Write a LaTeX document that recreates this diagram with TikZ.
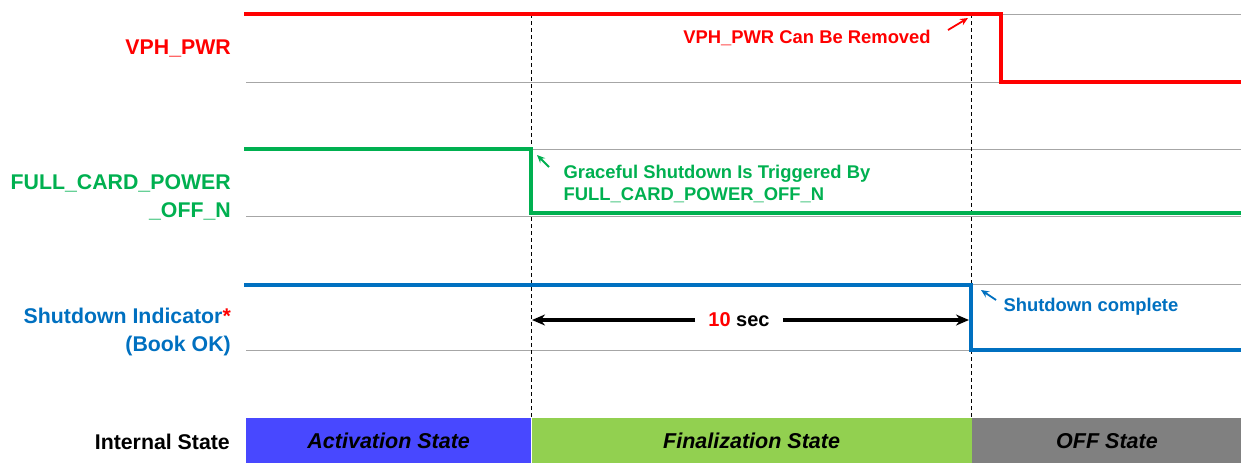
\documentclass[tikz,border=0pt]{standalone}
\usepackage{fontspec}
\setmainfont{Liberation Sans}
\usetikzlibrary{arrows.meta,positioning}
\definecolor{sigred}{RGB}{255,0,0}
\definecolor{siggreen}{RGB}{0,176,80}
\definecolor{sigblue}{RGB}{0,112,192}
\definecolor{actblue}{RGB}{72,72,255}
\definecolor{fingreen}{RGB}{146,208,80}
\definecolor{offgray}{RGB}{128,128,128}
\definecolor{gridgray}{RGB}{166,166,166}
\tikzset{
	gridline/.style={gridgray, line width=1pt},
	signal/.style={line width=4pt, line cap=rect},
	siglabel/.style={anchor=east, align=right, inner sep=1pt, font=\fontsize{21.3}{28}\selectfont\bfseries},
	note/.style={align=left, font=\fontsize{18.4}{22}\selectfont\bfseries},
	pointer/.style={->, line width=1.8pt, >={Stealth[length=8pt,width=7pt]}},
	statebox/.style={minimum height=45pt, inner sep=0pt, font=\fontsize{21.5}{24}\selectfont\bfseries\itshape}
}
\begin{document}
\begin{tikzpicture}[x=1pt, y=-1pt, line join=miter, >=stealth]
	\def\xs{246} \def\xa{531} \def\xb{971} \def\xe{1241}
	\useasboundingbox (0,0) rectangle (\xe,463);
	\foreach \y in {82,149,216,284,350}
		\draw[gridline] (\xs,\y)--(\xe,\y);
	\draw[gridline] (1001,14)--(\xe,14);
	\draw[dash pattern=on 4pt off 3pt, line width=.8pt] (\xa,14)--(\xa,418) (\xb,14)--(\xb,418);

	\node[statebox, fill=actblue, minimum width=285pt, anchor=north west] (act) at (\xs,418) {Activation State};
	\node[statebox, fill=fingreen, minimum width=440pt, right=0pt of act] (fin) {Finalization State};
	\node[statebox, fill=offgray, minimum width=270pt, right=0pt of fin] (off) {OFF State};

	\draw[signal, sigred] (\xs,14) -| (1001,82)--(\xe,82);
	\draw[signal, siggreen] (\xs,149) -| (\xa,213)--(\xe,213);
	\draw[signal, sigblue] (\xs,285) -| (\xb,350)--(\xe,350);

	\node[siglabel, sigred] (vph) at (232,48) {VPH\_PWR};
	\node[siglabel, siggreen] (fcp) at (232,197) {FULL\_CARD\_POWER\\\_OFF\_N};
	\node[siglabel, sigblue] (sdi) at (232,332) {Shutdown Indicator\textcolor{sigred}{*}\\(Book OK)};
	\node[siglabel] (ist) at (231,442) {Internal State};

	\node[note, sigred] (rem) at (807,38) {VPH\_PWR Can Be Removed};
	\coordinate (remtail) at (948,30);
	\coordinate (remtip) at (968,18);
	\draw[pointer, sigred] (remtail)--(remtip);

	\node[note, siggreen, anchor=west] (grace) at (560,184) {Graceful Shutdown Is Triggered By\\FULL\_CARD\_POWER\_OFF\_N};
	\coordinate (gracetail) at (549,167);
	\coordinate (gracetip) at (537,155);
	\draw[pointer, siggreen] (gracetail)--(gracetip);

	\node[note, sigblue, anchor=west] (done) at (1000,307) {Shutdown complete};
	\coordinate (donetail) at (996,300);
	\coordinate (donetip) at (981,290);
	\draw[pointer, sigblue] (donetail)--(donetip);

	\node[font=\fontsize{20}{24}\selectfont\bfseries, inner xsep=13pt] (ten) at (739,320) {\textcolor{sigred}{10} sec};
	\coordinate (tleft) at (\xa+1,320);
	\coordinate (tright) at (\xb-2,320);
	\foreach \t in {tleft,tright}
		\draw[-{Stealth[length=13pt,width=11pt]}, line width=3.6pt] (ten)--(\t);
\end{tikzpicture}
\end{document}
